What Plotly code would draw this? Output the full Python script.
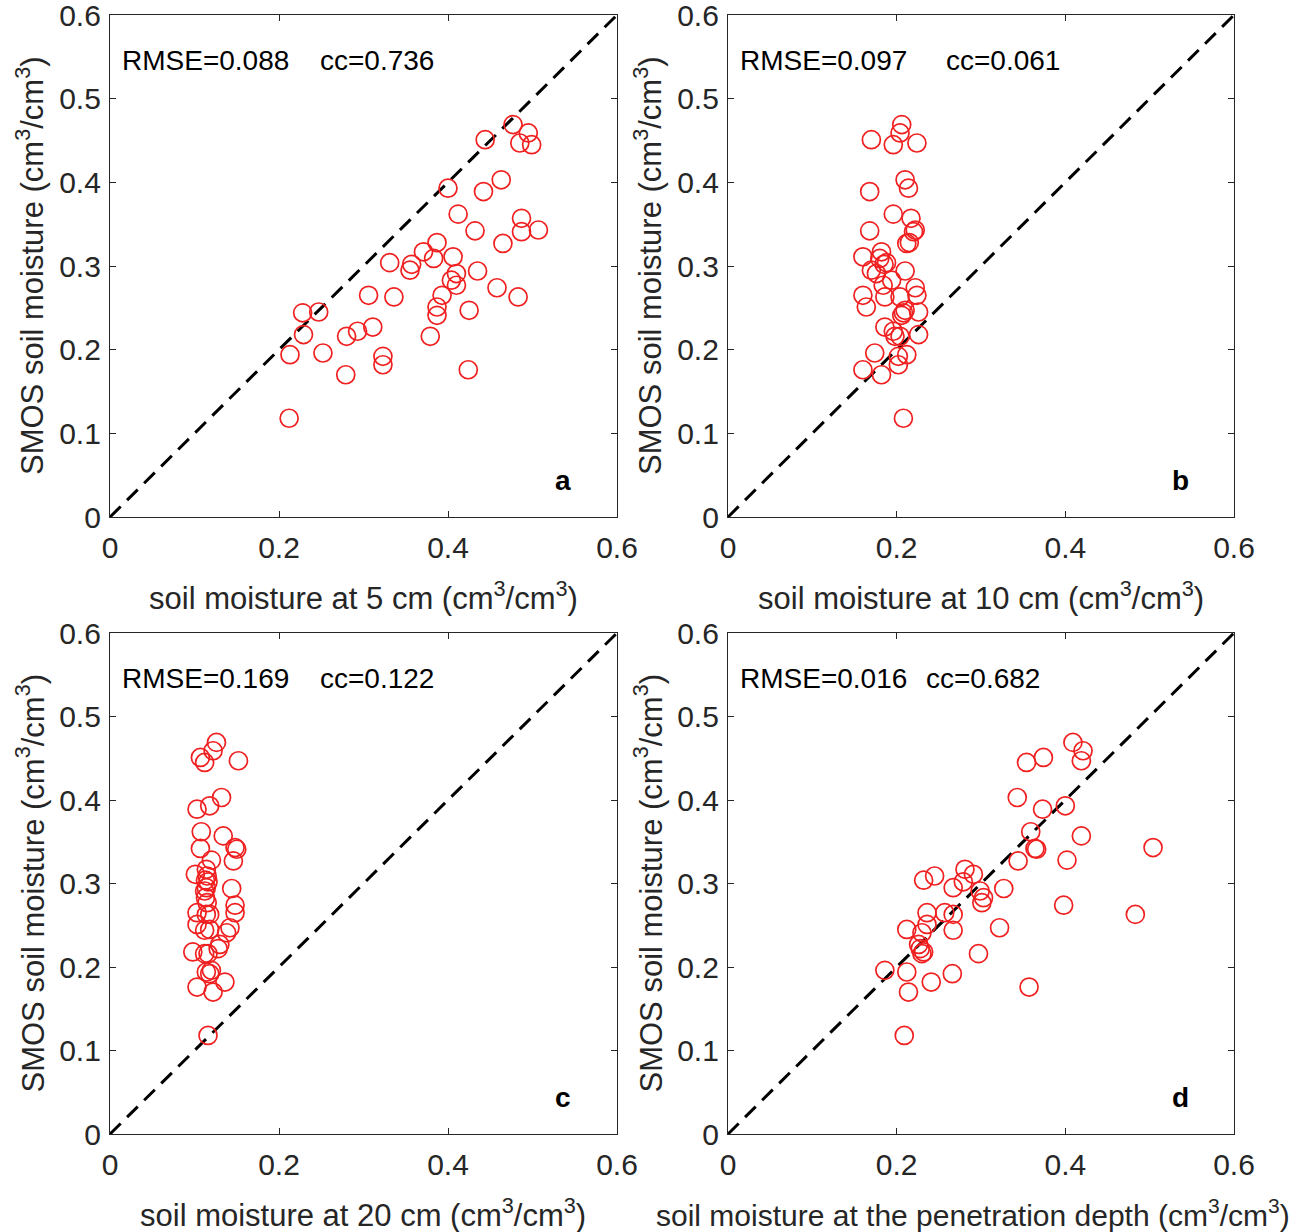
import plotly.graph_objects as go

# SMOS retrievals (shared y values for every panel), cm3/cm3
smos = [0.469, 0.459, 0.451, 0.447, 0.445, 0.403, 0.393, 0.389, 0.362, 0.357,
        0.343, 0.342, 0.341, 0.328, 0.327, 0.317, 0.311, 0.309, 0.304, 0.302,
        0.295, 0.294, 0.291, 0.283, 0.277, 0.274, 0.265, 0.265, 0.263, 0.263,
        0.251, 0.247, 0.245, 0.244, 0.241, 0.227, 0.222, 0.218, 0.216, 0.216,
        0.196, 0.194, 0.192, 0.182, 0.176, 0.170, 0.118]

# In-situ soil moisture at the matching sites / dates
sm_5cm = [0.477, 0.495, 0.444, 0.485, 0.499, 0.463, 0.400, 0.442, 0.412, 0.487,
          0.507, 0.432, 0.487, 0.387, 0.465, 0.371, 0.406, 0.383, 0.331, 0.357,
          0.355, 0.435, 0.410, 0.404, 0.410, 0.458, 0.306, 0.393, 0.336, 0.483,
          0.387, 0.425, 0.247, 0.228, 0.387, 0.311, 0.293, 0.229, 0.280, 0.379,
          0.252, 0.213, 0.323, 0.323, 0.424, 0.279, 0.212]

sm_10cm = [0.206, 0.204, 0.170, 0.224, 0.196, 0.210, 0.214, 0.168, 0.196, 0.217,
           0.222, 0.168, 0.220, 0.215, 0.212, 0.182, 0.160, 0.180, 0.188, 0.185,
           0.170, 0.210, 0.176, 0.194, 0.184, 0.222, 0.160, 0.224, 0.186, 0.204,
           0.164, 0.210, 0.226, 0.208, 0.206, 0.186, 0.196, 0.226, 0.204, 0.198,
           0.174, 0.212, 0.202, 0.202, 0.160, 0.182, 0.208]

sm_20cm = [0.126, 0.122, 0.107, 0.152, 0.112, 0.132, 0.118, 0.103, 0.108, 0.134,
           0.148, 0.107, 0.150, 0.120, 0.146, 0.114, 0.101, 0.115, 0.113, 0.116,
           0.114, 0.144, 0.112, 0.113, 0.115, 0.148, 0.103, 0.148, 0.114, 0.118,
           0.103, 0.142, 0.118, 0.112, 0.138, 0.130, 0.128, 0.098, 0.112, 0.116,
           0.120, 0.114, 0.118, 0.136, 0.103, 0.122, 0.116]

sm_pen = [0.409, 0.421, 0.374, 0.419, 0.354, 0.343, 0.400, 0.373, 0.359, 0.419,
          0.504, 0.364, 0.366, 0.402, 0.344, 0.281, 0.291, 0.245, 0.232, 0.279,
          0.267, 0.327, 0.299, 0.303, 0.301, 0.398, 0.236, 0.257, 0.267, 0.483,
          0.236, 0.322, 0.212, 0.267, 0.230, 0.226, 0.228, 0.232, 0.297, 0.230,
          0.186, 0.212, 0.266, 0.241, 0.357, 0.214, 0.209]

panels = [
    dict(x=sm_5cm, letter="a", rmse="0.088", cc="0.736",
         xlabel="soil moisture at 5 cm (cm<sup>3</sup>/cm<sup>3</sup>)"),
    dict(x=sm_10cm, letter="b", rmse="0.097", cc="0.061",
         xlabel="soil moisture at 10 cm (cm<sup>3</sup>/cm<sup>3</sup>)"),
    dict(x=sm_20cm, letter="c", rmse="0.169", cc="0.122",
         xlabel="soil moisture at 20 cm (cm<sup>3</sup>/cm<sup>3</sup>)"),
    dict(x=sm_pen, letter="d", rmse="0.016", cc="0.682",
         xlabel="soil moisture at the penetration depth (cm<sup>3</sup>/cm<sup>3</sup>)"),
]

one_to_one = [0, 0.6]
x_ticks = [0, 0.2, 0.4, 0.6]
y_ticks = [0, 0.1, 0.2, 0.3, 0.4, 0.5, 0.6]

W, H = 1304, 1232
# plot-area pixel boxes: (left, right, top, bottom)
boxes = [(110, 617, 15, 517), (728, 1234, 15, 517),
         (110, 617, 633, 1134), (728, 1234, 633, 1134)]
cc_x = [0.246, 0.256, 0.246, 0.232]
xtitle_shift = [0, 0, 0, -8]
xtitle_size = [31, 31, 31, 30]

FONT = "Liberation Sans, Arial, sans-serif"
TXT = "#262626"
FS = 30       # tick labels
FS_T = 31     # axis titles
FS_IN = 28    # text inside the axes

fig = go.Figure()
layout = dict(width=W, height=H, autosize=False,
              margin=dict(l=0, r=0, t=0, b=0, pad=0),
              paper_bgcolor="white", plot_bgcolor="white", showlegend=False,
              font=dict(family=FONT, size=FS, color=TXT))
annotations = []

for i, (p, (l, r, t, b)) in enumerate(zip(panels, boxes)):
    n = "" if i == 0 else str(i + 1)
    xa, ya = "x" + n, "y" + n
    fig.add_trace(go.Scatter(x=one_to_one, y=one_to_one, mode="lines",
                             line=dict(color="black", width=3, dash="15px,9px"),
                             xaxis=xa, yaxis=ya, hoverinfo="skip"))
    fig.add_trace(go.Scatter(x=p["x"], y=smos, mode="markers",
                             marker=dict(symbol="circle-open", size=18,
                                         color="#f02020", line=dict(width=1.7)),
                             xaxis=xa, yaxis=ya))
    axcommon = dict(range=[0, 0.6], showgrid=False, zeroline=False,
                    showline=True, linecolor=TXT, linewidth=1.3, mirror="ticks",
                    ticks="inside", ticklen=6, tickwidth=1.1, tickcolor=TXT,
                    automargin=False, ticklabeloverflow="allow",
                    tickfont=dict(family=FONT, size=FS, color=TXT))
    layout["xaxis" + n] = dict(axcommon, domain=[l / W, r / W], anchor=ya,
                               tickvals=x_ticks, ticktext=[f"{v:g}" for v in x_ticks],
                               ticklabelstandoff=4)
    layout["yaxis" + n] = dict(axcommon, domain=[1 - b / H, 1 - t / H], anchor=xa,
                               tickvals=y_ticks, ticktext=[f"{v:g}" for v in y_ticks],
                               ticklabelstandoff=2)
    # axis titles
    annotations.append(dict(text=p["xlabel"], xref="paper", yref="paper",
                            x=((l + r) / 2 + xtitle_shift[i]) / W, y=1 - (b + 79) / H,
                            xanchor="center", yanchor="middle", showarrow=False,
                            font=dict(size=xtitle_size[i])))
    annotations.append(dict(text="SMOS soil moisture (cm<sup>3</sup>/cm<sup>3</sup>)",
                            xref="paper", yref="paper", textangle=-90,
                            x=(l - 80) / W, y=1 - (t + b) / 2 / H,
                            xanchor="center", yanchor="middle", showarrow=False,
                            font=dict(size=FS_T)))
    # statistics and panel letter
    annotations.append(dict(text=f"RMSE={p['rmse']}", xref=xa, yref=ya,
                            x=0.012, y=0.546, xanchor="left", yanchor="middle",
                            showarrow=False, font=dict(size=FS_IN, color="black")))
    annotations.append(dict(text=f"cc={p['cc']}", xref=xa, yref=ya,
                            x=cc_x[i], y=0.546, xanchor="left", yanchor="middle",
                            showarrow=False, font=dict(size=FS_IN, color="black")))
    annotations.append(dict(text=f"<b>{p['letter']}</b>", xref=xa, yref=ya,
                            x=0.536, y=0.044, xanchor="center", yanchor="middle",
                            showarrow=False, font=dict(size=FS_IN, color="black")))

layout["annotations"] = annotations
fig.update_layout(**layout)
fig.write_html("out.html", config={"responsive": False},
               default_width="1304px", default_height="1232px",
               post_script="document.body.style.margin='0';"
                           "document.body.style.overflow='hidden';")
